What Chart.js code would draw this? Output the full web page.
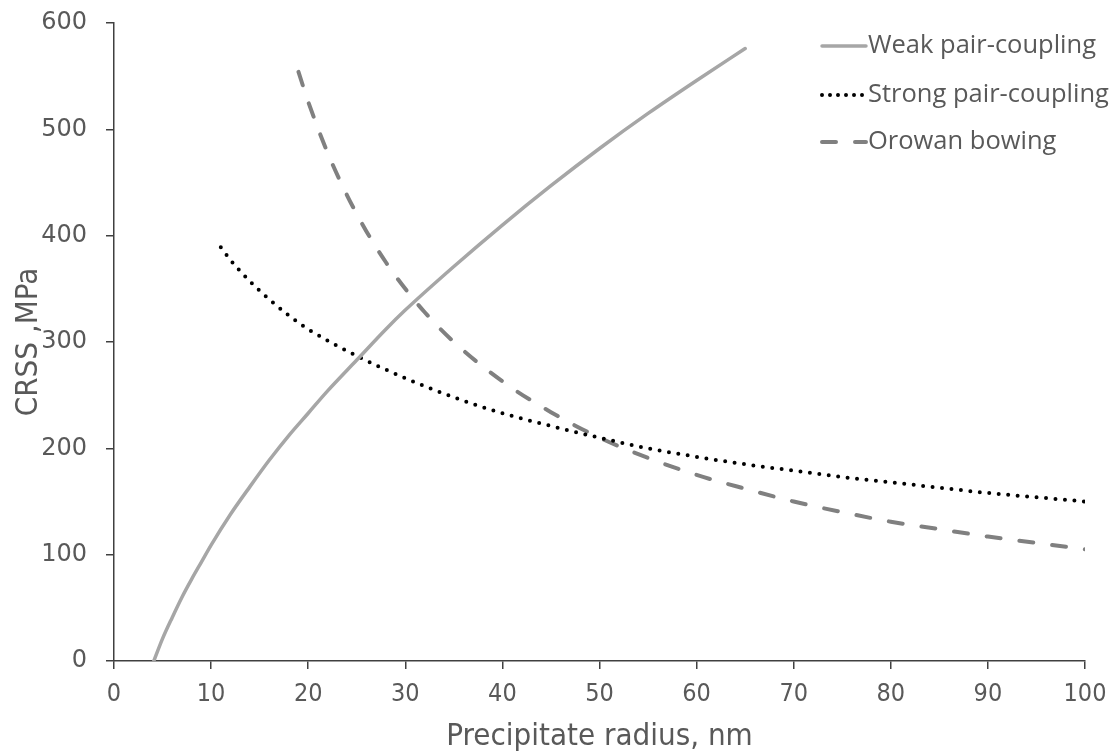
<!DOCTYPE html>
<html lang="en">
<head>
    <meta charset="UTF-8">
    <title>CRSS vs precipitate radius</title>
    <style>
        html, body { margin: 0; padding: 0; background: #fff; }
        .chart-box { width: 1115px; height: 756px; position: relative; }
    </style>
</head>
<body>
    <div class="chart-box">
        <canvas id="crssChart"></canvas>
    </div>

    <script src="https://cdn.jsdelivr.net/npm/chart.js"></script>
    <script>
        // Weak pair-coupling (solid light grey)
        const weakRadius = [4.1, 5, 6, 7, 8, 9, 10, 12, 14, 16, 18, 20, 22, 25, 28, 30, 35, 40, 45, 50, 55, 60, 65];
        const weakCrss = [0, 21, 41, 60, 77, 93, 109, 138, 164, 189, 212, 233, 254, 283, 312, 330, 371, 410, 447, 482, 515, 546, 576];

        // Strong pair-coupling (black dots)
        const strongRadius = [11, 12, 14, 16, 18, 20, 25, 30, 35, 40, 45, 50, 55, 60, 65, 70, 75, 80, 85, 90, 95, 100];
        const strongCrss = [389, 377, 357, 340, 325, 312, 287, 266, 248, 233, 221, 210, 200, 192, 185, 179, 173, 168, 163, 158, 154, 150];

        // Orowan bowing (dashed grey)
        const orowanRadius = [19, 20, 22, 24, 26, 28, 30, 32, 35, 40, 45, 50, 55, 60, 65, 70, 75, 80, 85, 90, 95, 100];
        const orowanCrss = [554, 526, 478, 438, 404, 375, 350, 328, 300, 263, 234, 210, 191, 175, 162, 150, 140, 131, 124, 117, 111, 105];

        const xTicks = [0, 10, 20, 30, 40, 50, 60, 70, 80, 90, 100];
        const yTicks = [0, 100, 200, 300, 400, 500, 600];

        const toPoints = (xs, ys) => xs.map((x, i) => ({ x: x, y: ys[i] }));

        const textColor = '#595959';
        const axisColor = '#404040';
        const narrowFont = '"DejaVu Sans Condensed", "DejaVu Sans", sans-serif';

        // legend drawn inside the plot, top right
        const insideLegend = {
            id: 'insideLegend',
            afterDraw(chart) {
                const ctx = chart.ctx;
                const x0 = 822, x1 = 866;
                const rows = [46, 95, 142];
                ctx.save();
                chart.data.datasets.forEach((ds, i) => {
                    const y = rows[i];
                    ctx.beginPath();
                    ctx.strokeStyle = ds.borderColor;
                    ctx.lineWidth = ds.borderWidth;
                    ctx.lineCap = ds.borderCapStyle || 'butt';
                    ctx.setLineDash(ds.legendDash || []);
                    ctx.moveTo(x0, y);
                    ctx.lineTo(x1, y);
                    ctx.stroke();
                    ctx.setLineDash([]);
                    ctx.fillStyle = textColor;
                    ctx.font = '25.5px "Open Sans", sans-serif';
                    ctx.textBaseline = 'middle';
                    ctx.textAlign = 'left';
                    ctx.fillText(ds.label, x1 + 2, y);
                });
                ctx.restore();
            }
        };

        new Chart(document.getElementById('crssChart'), {
            type: 'line',
            data: {
                datasets: [{
                    label: 'Weak pair-coupling',
                    data: toPoints(weakRadius, weakCrss),
                    borderColor: '#a6a6a6',
                    borderWidth: 3.5,
                    borderCapStyle: 'round',
                    pointRadius: 0,
                    cubicInterpolationMode: 'monotone'
                }, {
                    label: 'Strong pair-coupling',
                    data: toPoints(strongRadius, strongCrss),
                    borderColor: '#000000',
                    borderWidth: 4,
                    borderCapStyle: 'round',
                    borderDash: [0, 9.5],
                    legendDash: [0, 8],
                    pointRadius: 0,
                    cubicInterpolationMode: 'monotone'
                }, {
                    label: 'Orowan bowing',
                    data: toPoints(orowanRadius, orowanCrss),
                    borderColor: '#808080',
                    borderWidth: 4,
                    borderCapStyle: 'round',
                    borderDash: [14, 19],
                    legendDash: [14, 19],
                    pointRadius: 0,
                    cubicInterpolationMode: 'monotone'
                }]
            },
            options: {
                responsive: true,
                maintainAspectRatio: false,
                animation: false,
                layout: { padding: { top: 23, right: 30, left: 0, bottom: 0 } },
                plugins: {
                    legend: { display: false },
                    tooltip: { enabled: false }
                },
                scales: {
                    x: {
                        type: 'linear',
                        min: 0,
                        max: 100,
                        afterBuildTicks: (scale) => { scale.ticks = xTicks.map(v => ({ value: v })); },
                        afterFit: (scale) => {
                            scale.height = 95;
                            scale.paddingLeft = 0;
                            scale.paddingRight = 0;
                        },
                        grid: { drawOnChartArea: false, drawTicks: true, tickLength: 8, color: axisColor, lineWidth: 1.5 },
                        border: { color: axisColor, width: 1.5 },
                        ticks: {
                            color: textColor,
                            padding: 10,
                            maxRotation: 0,
                            font: { family: narrowFont, size: 25 }
                        },
                        title: {
                            display: true,
                            text: 'Precipitate radius, nm',
                            color: textColor,
                            padding: { top: 0, bottom: 0 },
                            font: { family: narrowFont, size: 31 }
                        }
                    },
                    y: {
                        min: 0,
                        max: 600,
                        afterBuildTicks: (scale) => { scale.ticks = yTicks.map(v => ({ value: v })); },
                        afterFit: (scale) => {
                            scale.width = 114;
                            scale.paddingTop = 0;
                            scale.paddingBottom = 0;
                        },
                        grid: { drawOnChartArea: false, drawTicks: true, tickLength: 8, color: axisColor, lineWidth: 1.5 },
                        border: { color: axisColor, width: 1.5 },
                        ticks: {
                            color: textColor,
                            padding: 19,
                            font: { family: '"DejaVu Sans", sans-serif', size: 24 }
                        },
                        title: {
                            display: true,
                            text: 'CRSS ,MPa',
                            color: textColor,
                            padding: { top: 10, bottom: 0 },
                            font: { family: narrowFont, size: 31 }
                        }
                    }
                }
            },
            plugins: [insideLegend]
        });
    </script>
</body>
</html>
